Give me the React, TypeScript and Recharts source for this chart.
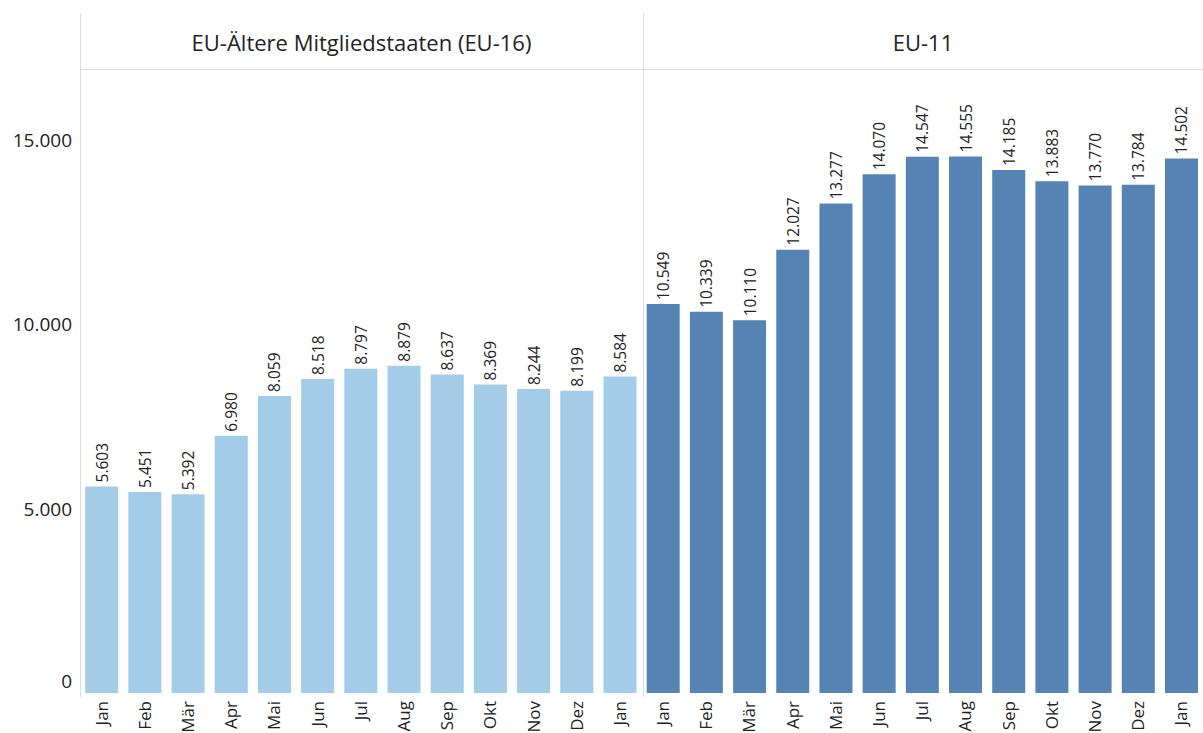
import { BarChart, Bar, XAxis, YAxis, Cell, LabelList } from 'recharts';

const months = ['Jan', 'Feb', 'Mär', 'Apr', 'Mai', 'Jun', 'Jul', 'Aug', 'Sep', 'Okt', 'Nov', 'Dez', 'Jan'];
const panels = ['EU-Ältere Mitgliedstaaten (EU-16)', 'EU-11'];
const eu16Values = [5603, 5451, 5392, 6980, 8059, 8518, 8797, 8879, 8637, 8369, 8244, 8199, 8584];
const eu11Values = [10549, 10339, 10110, 12027, 13277, 14070, 14547, 14555, 14185, 13883, 13770, 13784, 14502];
const yTicks = [0, 5000, 10000, 15000];
const panelColors = ['#A2CCE8', '#5584B4'];

const data = [
  ...eu16Values.map((v, i) => ({ key: `a${i}`, month: months[i], value: v, panel: 0 })),
  ...eu11Values.map((v, i) => ({ key: `b${i}`, month: months[i], value: v, panel: 1 })),
];

const FONT = '"Open Sans", "Noto Sans", sans-serif';
const fmt = (v: number) => v.toLocaleString('de-DE');

function YTick({ x, y, payload }: any) {
  const dy = payload.value === 0 ? -12 : 0;
  return (
    <text x={x} y={y + dy} dy={7} textAnchor="end" fill="#222" fontSize={19} fontFamily={FONT}>
      {fmt(payload.value)}
    </text>
  );
}

function XTick({ x, y, payload }: any) {
  const d = data.find((r) => r.key === payload.value);
  return (
    <text
      x={x}
      y={y}
      transform={`rotate(-90, ${x}, ${y})`}
      dy={6}
      textAnchor="end"
      fill="#222"
      fontSize={17}
      fontFamily={FONT}
    >
      {d ? d.month : ''}
    </text>
  );
}

function ValueLabel({ x, y, width, value }: any) {
  const cx = x + width / 2;
  const ty = y - 4;
  return (
    <text
      x={cx}
      y={ty}
      transform={`rotate(-90, ${cx}, ${ty})`}
      dy={6}
      textAnchor="start"
      fill="#222"
      fontSize={15.5}
      fontFamily={FONT}
    >
      {fmt(value)}
    </text>
  );
}

export default function App() {
  return (
    <div style={{ position: 'absolute', left: 0, top: 0, width: 1203, height: 733, background: '#fff', fontFamily: FONT }}>
      {/* panel headers and divider lines */}
      <div style={{ position: 'absolute', left: 80, top: 13, width: 1, height: 684, background: '#dcdcdc' }} />
      <div style={{ position: 'absolute', left: 643, top: 13, width: 1, height: 684, background: '#dcdcdc' }} />
      <div style={{ position: 'absolute', left: 80, top: 69, width: 1123, height: 1, background: '#dcdcdc' }} />
      <div style={{ position: 'absolute', left: 80, top: 27, width: 563, textAlign: 'center', fontSize: 22, color: '#222' }}>
        {panels[0]}
      </div>
      <div style={{ position: 'absolute', left: 643, top: 27, width: 560, textAlign: 'center', fontSize: 22, color: '#222' }}>
        {panels[1]}
      </div>
      <BarChart
        width={1203}
        height={733}
        data={data}
        margin={{ top: 70, right: 0, left: 0, bottom: 0 }}
        barCategoryGap="12%"
      >
        <XAxis
          dataKey="key"
          height={40}
          axisLine={false}
          tickLine={false}
          interval={0}
          tick={<XTick />}
          tickMargin={2}
        />
        <YAxis
          width={80}
          domain={[0, 16900]}
          ticks={yTicks}
          axisLine={false}
          tickLine={false}
          tick={<YTick />}
        />
        <Bar dataKey="value" isAnimationActive={false}>
          {data.map((d) => (
            <Cell key={d.key} fill={panelColors[d.panel]} />
          ))}
          <LabelList dataKey="value" content={<ValueLabel />} />
        </Bar>
      </BarChart>
    </div>
  );
}
